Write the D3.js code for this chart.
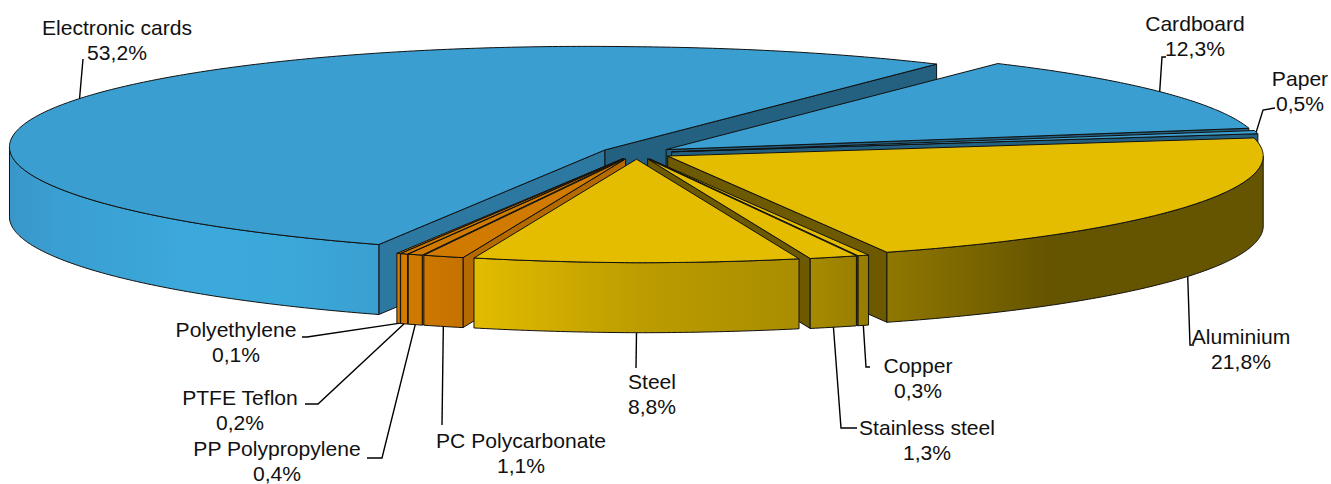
<!DOCTYPE html>
<html>
<head>
<meta charset="utf-8">
<script src="https://cdn.jsdelivr.net/npm/d3@7"></script>
<style>
    html, body { margin: 0; padding: 0; background: #fff; }
    svg { display: block; }
    text { font-family: "Liberation Sans", Arial, sans-serif; font-size: 21.1px; fill: #111; }
</style>
</head>
<body>
<svg id="chart" width="1331" height="484"></svg>
<script>
const categories = ["Electronic cards", "Cardboard", "Paper", "Aluminium", "Copper", "Stainless steel",
    "Steel", "PC Polycarbonate", "PP Polypropylene", "PTFE Teflon", "Polyethylene"];
const shares = [53.2, 12.3, 0.5, 21.8, 0.3, 1.3, 8.8, 1.1, 0.4, 0.2, 0.1];
const materials = ["blue", "blue", "blue", "yellow", "yellow", "yellow", "yellow", "orange", "orange", "orange", "orange"];
const shareLabels = ["53,2%", "12,3%", "0,5%", "21,8%", "0,3%", "1,3%", "8,8%", "1,1%", "0,4%", "0,2%", "0,1%"];

// label layout, same order as categories: text centre, first baseline, leader points after the rim
const labelX = [117, 1195, 1300, 1241, 918, 927, 652, 521, 277, 240, 236];
const labelY = [35, 31, 86, 344, 373, 435, 389, 448, 456, 405, 337];
const leaders = [
    [[83, 59]],
    [[1162, 57], [1166, 57]],
    [[1263, 110], [1275, 108]],
    [[1190, 345], [1194, 345]],
    [[866, 367], [870, 367]],
    [[841, 428], [857, 428]],
    [[636, 368]],
    [[442, 425]],
    [[382, 458], [367, 458]],
    [[318, 404], [305, 404]],
    [[307, 337], [302, 337]]
];

const palette = {
    blue: { top: "#3a9fd0", wall: "#24607f", startWall: "#2c78a0" },
    yellow: { top: "#e5bd00", wall: "#6d5900", startWall: "#6d5900" },
    orange: { top: "#d07a00", wall: "#b56a00", startWall: "#b56a00" }
};
const sideStops = {
    blue: [[10, "#3a96c8"], [60, "#3a9fd2"], [200, "#3ca9dc"], [290, "#3ba8da"], [380, "#3a9fd0"]],
    yellow: [[470, "#e3bd00"], [640, "#bc9c00"], [800, "#a98d00"], [885, "#917800"], [1050, "#655400"], [1262, "#655400"]],
    orange: [[397, "#d47c00"], [465, "#c47100"]]
};

const startDegrees = 202.32;
const depth = 70;
const explode = 0.06;
const leftTilt = 3;
const x = d3.scaleLinear().domain([-1, 1]).range([636.5 - 595.5, 636.5 + 595.5]);
const y = d3.scaleLinear().domain([-1, 1]).range([153 + 103.5, 153 - 103.5]);

const svg = d3.select("#chart");
const defs = svg.append("defs");
const line = d3.line();

const slices = d3.pie().sort(null).value(d => d)
    .startAngle(startDegrees * Math.PI / 180)
    .endAngle((startDegrees + 360) * Math.PI / 180)(shares);

Object.keys(sideStops).forEach(name => {
    const stops = sideStops[name];
    const grad = defs.append("linearGradient")
        .attr("id", "side-" + name)
        .attr("gradientUnits", "userSpaceOnUse")
        .attr("x1", stops[0][0]).attr("x2", stops[stops.length - 1][0])
        .attr("y1", 0).attr("y2", 0);
    const offset = d3.scaleLinear().domain([stops[0][0], stops[stops.length - 1][0]]).range([0, 1]);
    stops.forEach(s => grad.append("stop").attr("offset", offset(s[0])).attr("stop-color", s[1]));
});

function apex(slice)
{
    const mid = (slice.startAngle + slice.endAngle) / 2;
    return [explode * Math.sin(mid), explode * Math.cos(mid)];
}

// the left of the disc sits a little higher than the right in the original
function project(u, v, drop)
{
    return [x(u), y(v) + drop + leftTilt * Math.min(u, 0)];
}

function rimPoint(slice, angle, drop)
{
    const a = apex(slice);
    return project(a[0] + Math.sin(angle), a[1] + Math.cos(angle), drop);
}

function centerPoint(slice, drop)
{
    const a = apex(slice);
    return project(a[0], a[1], drop);
}

function anglesBetween(a0, a1)
{
    const count = Math.max(2, Math.ceil((a1 - a0) / 0.01));
    return d3.range(count + 1).map(i => a0 + (a1 - a0) * i / count);
}

function drawPath(points, fill)
{
    svg.append("path")
        .attr("d", line(points) + "Z")
        .attr("fill", fill)
        .attr("stroke", "#111")
        .attr("stroke-width", 1)
        .attr("stroke-linejoin", "round");
}

function drawWall(slice, angle, fill)
{
    drawPath([
        centerPoint(slice, 0),
        rimPoint(slice, angle, 0),
        rimPoint(slice, angle, depth),
        centerPoint(slice, depth)
    ], fill);
}

// the outer skin only shows on the front half of the ellipse
function drawSide(slice, fill)
{
    const turn = Math.floor((slice.startAngle + Math.PI / 2) / (2 * Math.PI));
    const from = Math.max(slice.startAngle, turn * 2 * Math.PI + Math.PI / 2);
    const to = Math.min(slice.endAngle, turn * 2 * Math.PI + 3 * Math.PI / 2);
    if (to <= from)
    {
        return;
    }
    const angles = anglesBetween(from, to);
    drawPath(angles.map(a => rimPoint(slice, a, 0))
        .concat(angles.slice().reverse().map(a => rimPoint(slice, a, depth))), fill);
}

function drawSlice(slice)
{
    const colors = palette[materials[slice.index]];
    if (Math.sin(slice.startAngle) < 0)
    {
        drawWall(slice, slice.startAngle, colors.startWall);
    }
    if (Math.sin(slice.endAngle) > 0)
    {
        drawWall(slice, slice.endAngle, colors.wall);
    }
    drawSide(slice, `url(#side-${materials[slice.index]})`);
    const rim = anglesBetween(slice.startAngle, slice.endAngle).map(a => rimPoint(slice, a, 0));
    drawPath([centerPoint(slice, 0)].concat(rim), colors.top);
}

function drawLabel(slice)
{
    const i = slice.index;
    const mid = (slice.startAngle + slice.endAngle) / 2;
    const start = rimPoint(slice, mid, Math.cos(mid) > 0 ? 0 : depth);
    svg.append("path")
        .attr("d", line([start].concat(leaders[i])))
        .attr("fill", "none")
        .attr("stroke", "#000")
        .attr("stroke-width", 1.4);
    const label = svg.append("text").attr("text-anchor", "middle");
    label.append("tspan").attr("x", labelX[i]).attr("y", labelY[i]).text(categories[i]);
    label.append("tspan").attr("x", labelX[i]).attr("y", labelY[i] + 24.5).text(shareLabels[i]);
}

// back to front: the big back slice, then clockwise to steel, with the thin orange ones before it
const paintOrder = ["Electronic cards", "Cardboard", "Paper", "Aluminium", "Copper", "Stainless steel",
    "Polyethylene", "PTFE Teflon", "PP Polypropylene", "PC Polycarbonate", "Steel"];
paintOrder.forEach(name => drawSlice(slices[categories.indexOf(name)]));
slices.forEach(drawLabel);
</script>
</body>
</html>
